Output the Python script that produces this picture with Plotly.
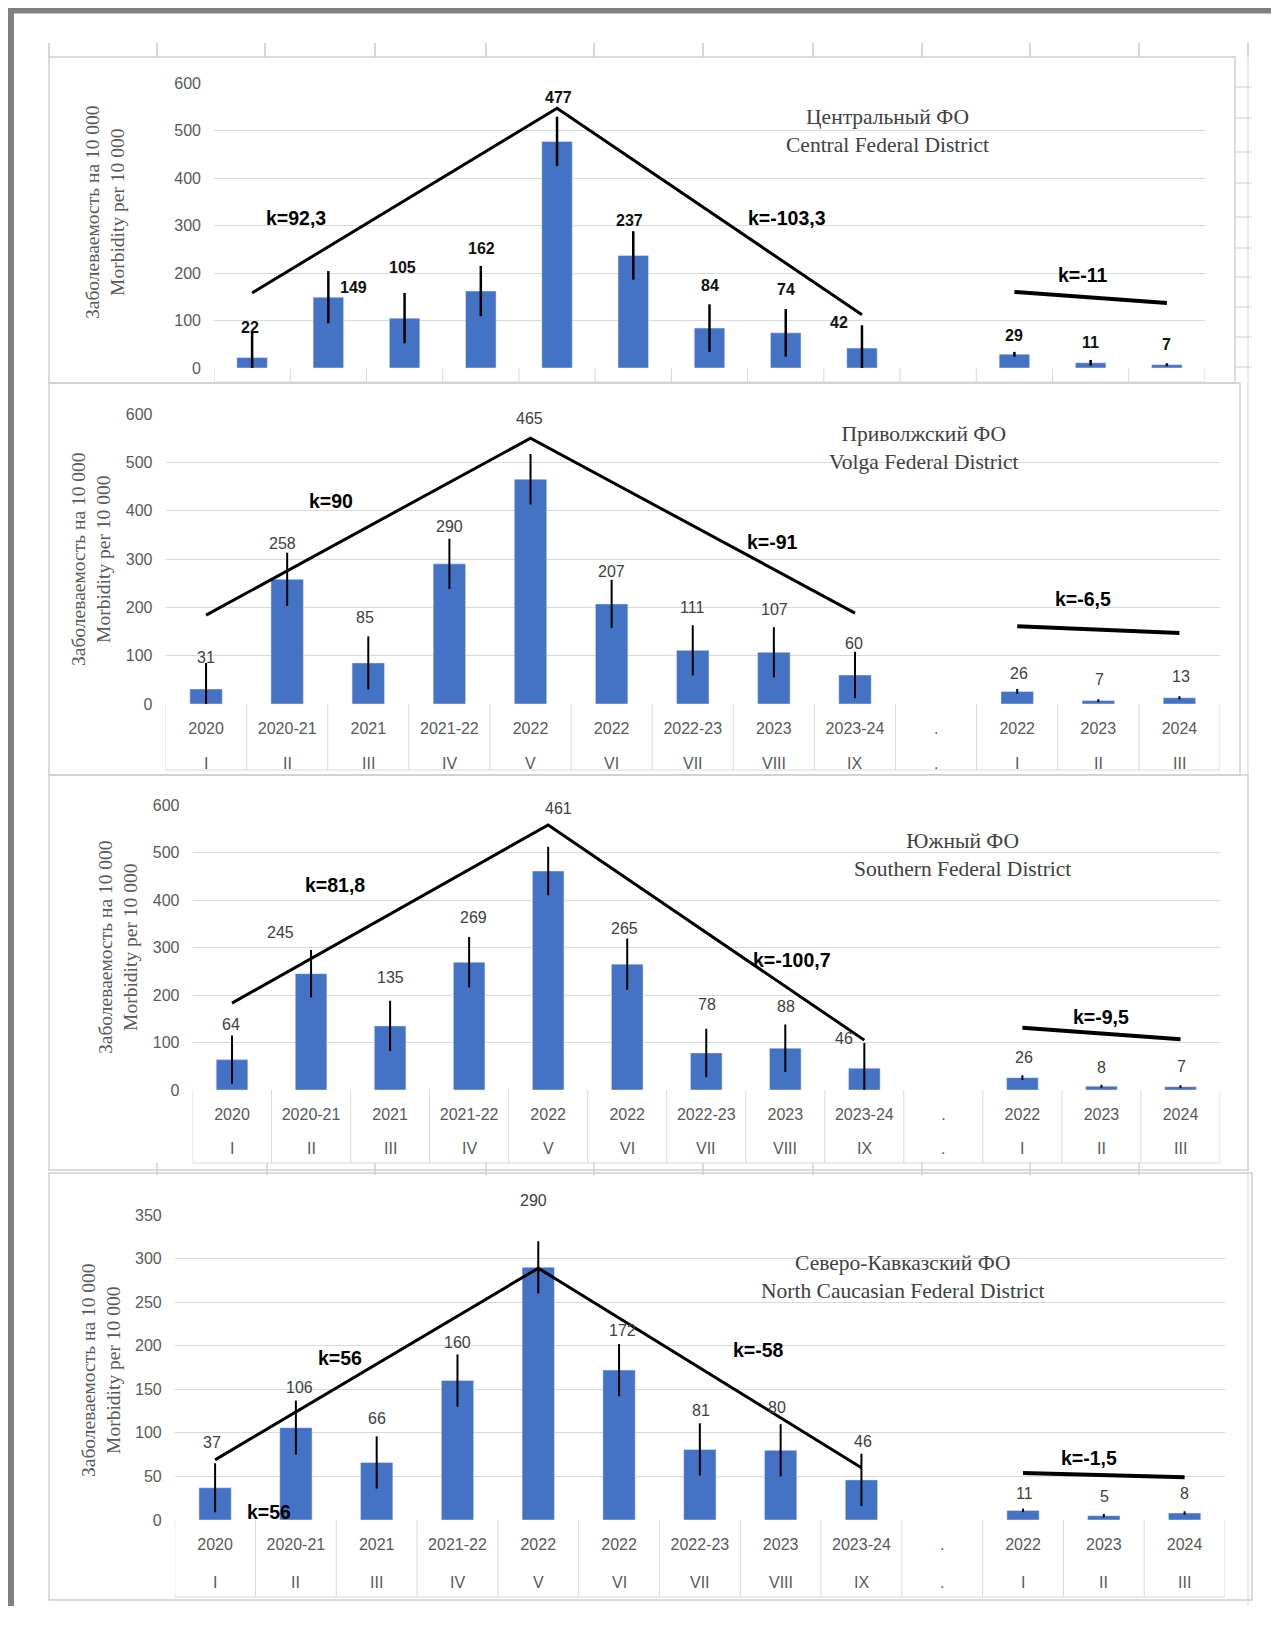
import plotly.graph_objects as go

# ---------------- DATA ----------------
years = ["2020", "2020-21", "2021", "2021-22", "2022", "2022", "2022-23", "2023", "2023-24", ".", "2022", "2023", "2024"]
periods = ["I", "II", "III", "IV", "V", "VI", "VII", "VIII", "IX", ".", "I", "II", "III"]

central_vals = [22, 149, 105, 162, 477, 237, 84, 74, 42, None, 29, 11, 7]
central_err = [52, 55, 53, 53, 52, 51, 50, 50, 48, None, 5, 6, 3]
central_trend = [158, 547, 112]
central_recent = [160, 137]
central_k = ["k=92,3", "k=-103,3", "k=-11"]
central_title = ["Центральный ФО", "Central Federal District"]

volga_vals = [31, 258, 85, 290, 465, 207, 111, 107, 60, None, 26, 7, 13]
volga_err = [54, 55, 55, 52, 52, 50, 52, 52, 48, None, 5, 3, 3]
volga_trend = [184, 550, 188]
volga_recent = [161, 147]
volga_k = ["k=90", "k=-91", "k=-6,5"]
volga_title = ["Приволжский ФО", "Volga Federal District"]

south_vals = [64, 245, 135, 269, 461, 265, 78, 88, 46, None, 26, 8, 7]
south_err = [51, 50, 53, 53, 51, 54, 51, 50, 53, None, 5, 3, 3]
south_trend = [183, 558, 105]
south_recent = [131, 107]
south_k = ["k=81,8", "k=-100,7", "k=-9,5"]
south_title = ["Южный ФО", "Southern Federal District"]

nc_vals = [37, 106, 66, 160, 290, 172, 81, 80, 46, None, 11, 5, 8]
nc_err = [28, 31, 30, 30, 30, 30, 30, 30, 30, None, 2, 2, 2]
nc_trend = [69, 289, 60]
nc_recent = [54, 49]
nc_k = ["k=56", "k=56", "k=-58", "k=-1,5"]
nc_title = ["Северо-Кавказский ФО", "North Caucasian Federal District"]

y_title = ["Заболеваемость на 10 000", "Morbidity per 10 000"]

DATA = [
    dict(vals=central_vals, err=central_err, trend=central_trend, recent=central_recent, ks=central_k, title=central_title),
    dict(vals=volga_vals, err=volga_err, trend=volga_trend, recent=volga_recent, ks=volga_k, title=volga_title),
    dict(vals=south_vals, err=south_err, trend=south_trend, recent=south_recent, ks=south_k, title=south_title),
    dict(vals=nc_vals, err=nc_err, trend=nc_trend, recent=nc_recent, ks=nc_k, title=nc_title),
]

# ---------------- STYLE / LAYOUT ----------------
W, H, OFF = 1263, 1598, 8
def fx(px): return (px - OFF) / W
def fy(py): return 1 - (py - OFF) / H

SANS = "Liberation Sans, Arial, sans-serif"
SERIF = "Liberation Serif, Times New Roman, serif"
BLUE = "#4472C4"
GRID = "#d9d9d9"
TXT = "#595959"

STYLE = [
    dict(left=214, right=1205, base=368, top=83, ymax=600, dtick=100, cells=382, show_x=False,
         roman_y=None, box=(49, 57, 1235, 383), ytitle=(105, 212), title_xy=(887, 131), bold=True,
         errw=2.5,
         shifts=[(-2, 30), (25, 10), (-2, 51), (1, 43), (1, 44), (-4, 35), (0, 43), (0, 43), (-23, 26), None, (0, 19), (0, 20), (0, 20)],
         kpos=[(0.58, 316), (7.02, 316), (10.89, 196)]),
    dict(left=165.5, right=1220, base=704, top=414, ymax=600, dtick=100, cells=770, show_x=True,
         roman_y=763, box=(49, 383, 1240, 775), ytitle=(91, 559), title_xy=(924, 448), bold=False,
         errw=2,
         shifts=[(0, 32), (-5, 36), (-3, 45), (0, 37), (-1, 61), (0, 32), (-1, 43), (1, 43), (-1, 32), None, (2, 18), (1, 21), (2, 21)],
         kpos=[(1.54, 420), (6.98, 335), (10.81, 217)]),
    dict(left=192.5, right=1220, base=1090, top=805, ymax=600, dtick=100, cells=1163, show_x=True,
         roman_y=1148, box=(49, 775, 1248, 1170), ytitle=(118, 947), title_xy=(962, 855), bold=False,
         errw=2,
         shifts=[(-1, 35), (-31, 41), (0, 48), (4, 45), (10, 63), (-3, 36), (1, 48), (1, 42), (-20, 30), None, (2, 20), (0, 19), (1, 20)],
         kpos=[(1.30, 432), (7.08, 274), (10.99, 154)]),
    dict(left=174.7, right=1225, base=1520, top=1215, ymax=350, dtick=50, cells=1597, show_x=True,
         roman_y=1582, box=(49, 1173, 1252, 1600), ytitle=(101, 1370), title_xy=(903, 1277), bold=False,
         errw=2,
         shifts=[(-3, 45), (4, 40), (0, 44), (0, 38), (-5, 67), (3, 40), (1, 39), (-4, 43), (2, 38), None, (1, 17), (1, 19), (0, 20)],
         kpos=[(1.55, 186), (0.67, 9), (6.72, 195), (10.82, 71)]),
]

xs = list(range(len(years)))
split = years.index(".")

fig = go.Figure()
annotations = []
shapes = []

for n, (d, s) in enumerate(zip(DATA, STYLE), start=1):
    sfx = "" if n == 1 else str(n)
    xa, ya = "x" + sfx, "y" + sfx
    vals, err = d["vals"], d["err"]
    err_minus = [None if v is None else min(e, v) for v, e in zip(vals, err)]

    fig.add_trace(go.Bar(
        x=xs, y=vals, xaxis=xa, yaxis=ya, marker_color=BLUE, showlegend=False,
        error_y=dict(type="data", symmetric=False, array=err, arrayminus=err_minus,
                     color="black", thickness=s["errw"], width=0),
    ))

    # trend lines
    main_vals = [v for v in vals[:split]]
    peak_i = main_vals.index(max(main_vals))
    fig.add_trace(go.Scatter(
        x=[0, peak_i, split - 1], y=d["trend"], xaxis=xa, yaxis=ya, mode="lines",
        line=dict(color="black", width=3), showlegend=False, hoverinfo="skip"))
    fig.add_trace(go.Scatter(
        x=[split + 1, len(years) - 1], y=d["recent"], xaxis=xa, yaxis=ya, mode="lines",
        line=dict(color="black", width=4), showlegend=False, hoverinfo="skip"))

    fig.layout["xaxis" + sfx] = dict(
        domain=[fx(s["left"]), fx(s["right"])], range=[-0.5, len(years) - 0.5], anchor=ya,
        tickvals=xs, ticktext=years, showticklabels=s["show_x"], showgrid=False, zeroline=False,
        showline=False, ticks="", tickfont=dict(family=SANS, size=16, color=TXT),
        ticklabelstandoff=13, fixedrange=True, automargin=False)
    fig.layout["yaxis" + sfx] = dict(
        domain=[fy(s["base"]), fy(s["top"])], range=[0, s["ymax"]], dtick=s["dtick"], anchor=xa,
        showgrid=True, gridcolor=GRID, gridwidth=1, zeroline=False, showline=False, ticks="",
        tickfont=dict(family=SANS, size=16, color=TXT), ticklabelstandoff=12, fixedrange=True,
        automargin=False)

    # value labels
    for i, v in enumerate(vals):
        if v is None:
            continue
        dx, dy = s["shifts"][i]
        annotations.append(dict(
            x=i, y=v, xref=xa, yref=ya, text=("<b>%s</b>" % v) if s["bold"] else str(v),
            showarrow=False, xanchor="center", yanchor="middle", xshift=dx, yshift=dy,
            font=dict(family=SANS, size=16, color="#111111" if s["bold"] else "#404040"),
        ))

    # k labels
    for txt, (kx, ky) in zip(d["ks"], s["kpos"]):
        annotations.append(dict(x=kx, y=ky, xref=xa, yref=ya, text="<b>%s</b>" % txt, showarrow=False,
                                xanchor="center", yanchor="middle",
                                font=dict(family=SANS, size=19.5, color="black")))

    # roman numerals row
    if s["roman_y"] is not None:
        for i, r in enumerate(periods):
            annotations.append(dict(x=i, y=fy(s["roman_y"]), xref=xa, yref="paper", text=r,
                                    showarrow=False, xanchor="center", yanchor="middle",
                                    font=dict(family=SANS, size=16, color=TXT)))

    # panel title
    tx, ty = s["title_xy"]
    annotations.append(dict(x=fx(tx), y=fy(ty), xref="paper", yref="paper",
                            text="<br>".join(d["title"]), showarrow=False,
                            xanchor="center", yanchor="middle", align="center",
                            font=dict(family=SERIF, size=21.5, color="#404040")))
    # y axis title
    yx, yy = s["ytitle"]
    annotations.append(dict(x=fx(yx), y=fy(yy), xref="paper", yref="paper",
                            text="<br>".join(y_title), showarrow=False, textangle=-90,
                            xanchor="center", yanchor="middle", align="center",
                            font=dict(family=SERIF, size=19.5, color=TXT)))

    # category cells
    for i in range(len(years) + 1):
        shapes.append(dict(type="line", xref=xa, yref="paper", x0=i - 0.5, x1=i - 0.5,
                           y0=fy(s["base"]), y1=fy(s["cells"]), line=dict(color=GRID, width=1)))
    shapes.append(dict(type="line", xref=xa, yref="paper", x0=-0.5, x1=len(years) - 0.5,
                       y0=fy(s["cells"]), y1=fy(s["cells"]), line=dict(color=GRID, width=1)))

    # chart area box
    bx0, by0, bx1, by1 = s["box"]
    shapes.append(dict(type="rect", xref="paper", yref="paper", x0=fx(bx0), x1=fx(bx1),
                       y0=fy(by1), y1=fy(by0), line=dict(color="#cfcfcf", width=1.5), layer="below"))

# sheet-grid remnants at the top and right of the first panel
for tx in [49, 157, 265, 375, 486, 594, 703, 813, 922, 1030, 1139, 1248]:
    shapes.append(dict(type="line", xref="paper", yref="paper", x0=fx(tx), x1=fx(tx),
                       y0=fy(43), y1=fy(57), line=dict(color="#c8c8c8", width=1.5)))
for tx in [157, 267, 375, 486, 594, 703, 813, 922, 1030, 1139]:
    shapes.append(dict(type="line", xref="paper", yref="paper", x0=fx(tx), x1=fx(tx),
                       y0=fy(1163), y1=fy(1175), line=dict(color="#d0d0d0", width=1.5)))
shapes.append(dict(type="line", xref="paper", yref="paper", x0=fx(1248), x1=fx(1248),
                   y0=fy(43), y1=fy(1605), line=dict(color="#d6d6d6", width=1)))
for ty in [87, 118, 152, 183, 217, 248, 277, 307, 337, 367]:
    shapes.append(dict(type="line", xref="paper", yref="paper", x0=fx(1235), x1=fx(1252),
                       y0=fy(ty), y1=fy(ty), line=dict(color="#d0d0d0", width=1)))

# gray frame (top and left edges of the scan)
shapes.append(dict(type="rect", xref="paper", yref="paper", x0=0, x1=1, y0=fy(13.5), y1=1,
                   line=dict(width=0), fillcolor="#808080"))
shapes.append(dict(type="rect", xref="paper", yref="paper", x0=0, x1=fx(14), y0=0, y1=1,
                   line=dict(width=0), fillcolor="#808080"))

fig.update_layout(
    width=W, height=H, autosize=False,
    margin=dict(l=0, r=0, t=0, b=0, pad=0, autoexpand=False),
    paper_bgcolor="white", plot_bgcolor="white",
    bargap=0.6, showlegend=False,
    annotations=annotations, shapes=shapes,
)

fig.write_html("out.html")
